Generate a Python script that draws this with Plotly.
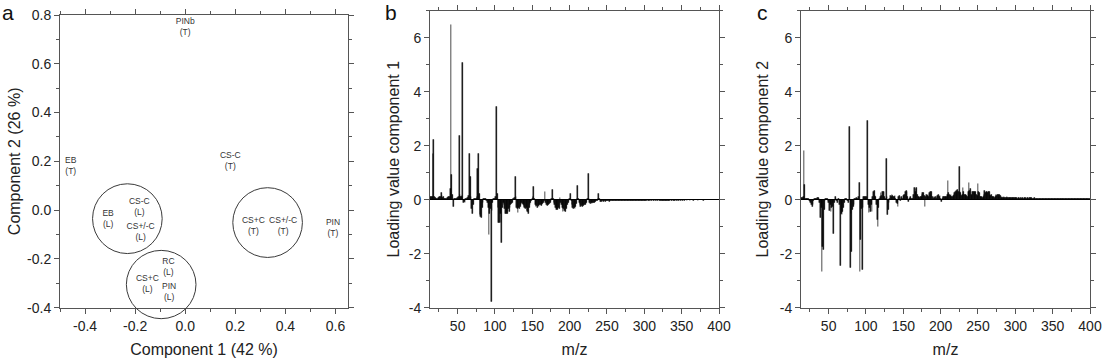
import plotly.graph_objects as go

W, H = 1102, 361
FONT = "Arial, Liberation Sans, sans-serif"

# ---------------- Panel a : PCA scores (text labels) ----------------
pca_x = [0.0, -0.457, 0.18, -0.308, -0.183, -0.178, -0.151, -0.067, -0.064, 0.272, 0.391, 0.59]
pca_y = [0.749, 0.178, 0.20, -0.039, 0.011, -0.093, -0.306, -0.233, -0.339, -0.065, -0.065, -0.075]
pca_labels = ["PINb<br>(T)", "EB<br>(T)", "CS-C<br>(T)", "EB<br>(L)", "CS-C<br>(L)",
              "CS+/-C<br>(L)", "CS+C<br>(L)", "RC<br>(L)", "PIN<br>(L)", "CS+C<br>(T)",
              "CS+/-C<br>(T)", "PIN<br>(T)"]

# group circles (centre in score units, radii in score units)
circle_cx = [-0.231, -0.096, 0.329]
circle_cy = [-0.035, -0.305, -0.051]
circle_rx = [0.139, 0.139, 0.139]
circle_ry = [0.143, 0.140, 0.143]

# ---------------- Panels b, c : loadings vs m/z ----------------
mz_start, mz_end = 13, 400
loading_comp1 = [
    0.08, 0.10, 0.12, 0.10, 1.70, 2.22, 0.10, 0.08, 0.05, 0.05,        # 13-22
    0.05, 0.06, 0.08, 0.10, 0.12, 0.25, 0.15, 0.08, 0.10, 0.05,        # 23-32
    0.05, 0.05, 0.05, 0.06, 0.08, 0.10, 0.12, 0.40, 6.50, 0.93,        # 33-42
    0.20, -0.25, 0.05, 0.03, 0.03, 0.05, 0.05, 0.06, 0.10, 2.38,       # 43-52
    0.19, 0.10, 0.12, 0.15, 5.06, -0.10, -0.08, -0.10, 0.05, 0.04,     # 53-62
    0.08, 0.05, 0.15, 1.70, 0.84, 0.10, -0.35, -0.52, -0.20, 0.04,     # 63-72
    0.03, 0.05, 0.05, 0.10, 1.15, 1.70, 0.21, -0.55, -0.62, -0.68,     # 73-82
    -0.30, -0.10, 0.04, 0.03, 0.04, 0.04, -0.05, -0.10, -0.30, -1.30,  # 83-92
    -0.50, -0.35, -3.77, -0.40, -0.10, 0.03, 0.03, 0.04, 0.10, 3.46,   # 93-102
    0.21, -0.30, -0.84, -0.84, -0.50, -0.84, -1.58, -0.30, -0.10, -0.20,  # 103-112
    -0.35, -0.50, -0.52, -0.45, -0.50, -0.35, -0.45, -0.30, -0.20, -0.15,  # 113-122
    -0.10, 0.05, 0.05, 0.08, 0.84, 0.10, -0.30, -0.35, -0.49, -0.30,   # 123-132
    -0.35, -0.25, -0.20, -0.10, -0.15, -0.20, -0.25, -0.30, -0.35, -0.30,  # 133-142
    -0.40, -0.45, -0.53, -0.30, -0.20, -0.10, -0.05, 0.05, 0.10, 0.47,  # 143-152
    0.05, -0.20, -0.25, -0.22, -0.28, -0.22, -0.25, -0.20, -0.18, -0.22,  # 153-162
    -0.20, -0.15, -0.12, -0.05, 0.30, -0.10, -0.20, -0.22, -0.18, -0.20,  # 163-172
    -0.15, -0.10, -0.05, 0.05, 0.37, 0.03, -0.10, -0.20, -0.30, -0.37,  # 173-182
    -0.35, -0.37, -0.30, -0.33, 0.06, -0.10, -0.20, -0.30, -0.43, -0.35,  # 183-192
    -0.40, -0.43, -0.30, -0.35, -0.20, -0.10, -0.05, 0.03, 0.21, -0.05,  # 193-202
    -0.20, -0.30, -0.33, -0.28, -0.33, -0.25, -0.15, 0.05, 0.52, 0.02,  # 203-212
    -0.10, -0.20, -0.25, -0.22, -0.25, -0.20, -0.22, -0.18, -0.20, -0.15,  # 213-222
    -0.10, 0.03, 0.95, 0.05, -0.10, -0.15, -0.12, -0.15, -0.10, -0.12,  # 223-232
    -0.10, -0.08, -0.06, -0.05, -0.04, 0.02, 0.22, 0.02, -0.06, -0.05,  # 233-242
    -0.07, -0.05, -0.06, -0.04, -0.05, -0.06, -0.04, -0.05, -0.05, -0.04,  # 243-252
    -0.06, -0.05, -0.04, -0.05, -0.03, -0.05, -0.04, -0.04, -0.04, -0.03,  # 253-262
    -0.05, -0.04, -0.03, -0.04, -0.03, -0.04, -0.03, -0.03, -0.04, -0.03,  # 263-272
    -0.03, -0.02, -0.03, -0.03, -0.02, -0.03, -0.02, -0.03, -0.02, -0.03,  # 273-282
    -0.02, -0.02, -0.03, -0.02, -0.02, -0.03, -0.02, -0.02, -0.02, -0.03,  # 283-292
    -0.02, -0.02, -0.02, -0.02, -0.03, -0.02, -0.02, -0.02, -0.02, -0.02,  # 293-302
    -0.02, -0.01, -0.02, -0.02, -0.02, -0.01, -0.02, -0.02, -0.01, -0.02,  # 303-312
    -0.02, -0.01, -0.02, -0.01, -0.02, -0.02, -0.01, -0.02, -0.01, -0.02,  # 313-322
    -0.02, -0.02, -0.03, -0.02, -0.02, -0.03, -0.02, -0.02, -0.02, -0.02,  # 323-332
    -0.02, -0.02, -0.01, -0.02, -0.02, -0.01, -0.02, -0.02, -0.02, -0.01,  # 333-342
    -0.02, -0.01, -0.02, -0.02, -0.01, -0.02, -0.01, -0.01, -0.02, -0.01,  # 343-352
    -0.01, -0.02, -0.01, -0.01, -0.02, -0.01, -0.01, -0.01, -0.02, -0.01,  # 353-362
    -0.01, -0.01, -0.01, -0.02, -0.01, -0.01, -0.01, -0.01, -0.01, -0.02,  # 363-372
    -0.01, -0.01, -0.01, -0.01, -0.01, -0.01, -0.02, -0.01, -0.01, -0.01,  # 373-382
    -0.01, -0.01, -0.01, -0.01, -0.01, -0.01, -0.01, -0.01, -0.01, -0.01,  # 383-392
    -0.01, -0.01, -0.01, -0.01, -0.01, -0.01, -0.01, -0.01,              # 393-400
]

loading_comp2 = [
    0.05, 0.06, 0.08, 0.10, 1.82, 0.55, 0.05, 0.03, 0.02, 0.02,        # 13-22
    0.03, -0.05, -0.08, -0.12, -0.20, -0.25, -0.20, -0.05, 0.03, 0.02,  # 23-32
    0.02, 0.03, 0.06, 0.08, 0.05, -0.10, -0.68, -0.30, -2.67, -1.73,   # 33-42
    -1.85, -0.37, -0.05, 0.02, 0.03, 0.02, -0.05, -0.10, -0.40, -0.20,  # 43-52
    -0.43, -0.30, -0.27, -0.10, -1.26, -0.10, 0.10, 0.05, -0.05, -0.10,  # 53-62
    0.05, 0.03, -0.20, -2.43, -0.50, -0.55, -0.43, -0.30, -0.10, 0.05,  # 63-72
    0.05, 0.03, -0.03, -0.05, -0.10, 2.69, -2.53, -0.50, -1.93, -0.37,  # 73-82
    -0.25, -0.20, 0.03, 0.05, 0.06, 0.04, 0.05, 0.10, 0.62, -2.65,     # 83-92
    -1.48, -0.35, -2.60, -0.30, 0.12, 0.10, 0.12, 0.05, 0.10, 2.93,    # 93-102
    -0.18, -0.49, -0.30, -0.45, -0.20, -0.43, 0.10, 0.31, 0.35, 0.15,  # 103-112
    0.10, -0.20, -0.74, -0.99, -0.30, 0.05, 0.10, 0.25, 0.15, 0.30,    # 113-122
    0.28, 0.30, 0.10, 0.05, 1.52, 0.10, -0.55, -0.37, -0.10, 0.05,     # 123-132
    0.15, 0.12, 0.18, 0.15, 0.10, 0.12, 0.15, 0.05, -0.10, -0.15,      # 133-142
    -0.25, 0.10, 0.15, -0.05, 0.08, 0.10, 0.05, 0.15, 0.18, 0.20,      # 143-152
    0.30, 0.33, 0.30, 0.10, -0.06, 0.05, 0.08, 0.10, 0.05, 0.03,       # 153-162
    0.05, 0.20, 0.43, 0.30, 0.40, 0.43, 0.20, 0.10, 0.12, 0.08,        # 163-172
    0.10, 0.12, 0.20, 0.27, 0.25, 0.15, -0.25, 0.12, 0.18, 0.15,       # 173-182
    0.18, 0.10, 0.25, 0.31, 0.20, 0.28, 0.10, 0.05, 0.10, 0.08,        # 183-192
    0.10, 0.05, 0.10, 0.15, 0.18, 0.12, 0.15, 0.05, -0.06, 0.05,       # 193-202
    0.10, 0.12, 0.10, 0.12, 0.10, 0.12, 0.20, 0.71, 0.25, 0.18,        # 203-212
    0.15, 0.18, 0.12, 0.10, 0.15, 0.20, 0.25, 0.30, 0.35, 0.25,        # 213-222
    0.37, 0.30, 1.23, 0.30, 0.25, 0.15, 0.20, 0.43, 0.30, 0.20,        # 223-232
    0.18, 0.20, 0.15, 0.12, 0.30, 0.62, 0.35, 0.41, 0.20, 0.15,        # 233-242
    0.31, 0.28, 0.30, 0.25, 0.31, 0.20, 0.15, 0.58, 0.30, 0.25,        # 243-252
    0.12, 0.10, 0.12, 0.08, 0.10, 0.20, 0.35, 0.25, 0.30, 0.31,        # 253-262
    0.25, 0.30, 0.28, 0.20, 0.15, 0.18, 0.10, 0.10, 0.12, 0.08,        # 263-272
    0.10, 0.18, 0.15, 0.20, 0.18, 0.12, 0.18, 0.15, 0.09, 0.10,        # 273-282
    0.08, 0.09, 0.10, 0.08, 0.09, 0.07, 0.10, 0.08, 0.09, 0.07,        # 283-292
    0.08, 0.09, 0.07, 0.08, 0.06, 0.08, 0.07, 0.06, 0.07, 0.06,        # 293-302
    0.05, 0.06, 0.07, 0.05, 0.06, 0.05, 0.06, 0.07, 0.05, 0.06,        # 303-312
    0.05, 0.06, 0.05, 0.07, 0.06, 0.05, 0.08, 0.06, 0.05, 0.06,        # 313-322
    0.05, 0.04, 0.05, 0.06, 0.04, 0.05, 0.04, 0.05, 0.04, 0.05,        # 323-332
    0.04, 0.03, 0.04, 0.05, 0.04, 0.03, 0.04, 0.03, 0.04, 0.04,        # 333-342
    0.03, 0.04, 0.03, 0.04, 0.03, 0.03, 0.04, 0.03, 0.04, 0.03,        # 343-352
    0.03, 0.04, 0.03, 0.03, 0.03, 0.04, 0.03, 0.03, 0.03, 0.04,        # 353-362
    0.03, 0.03, 0.04, 0.03, 0.03, 0.02, 0.03, 0.03, 0.03, 0.02,        # 363-372
    0.03, 0.03, 0.02, 0.03, 0.03, 0.02, 0.03, 0.02, 0.03, 0.02,        # 373-382
    0.02, 0.03, 0.02, 0.02, 0.03, 0.02, 0.02, 0.02, 0.03, 0.02,        # 383-392
    0.02, 0.02, 0.02, 0.02, 0.02, 0.02, 0.02, 0.02,                    # 393-400
]
mz_values = list(range(mz_start, mz_end + 1))
assert len(loading_comp1) == len(mz_values), len(loading_comp1)
assert len(loading_comp2) == len(mz_values), len(loading_comp2)

# tick labels
a_xticks = [-0.4, -0.2, 0.0, 0.2, 0.4, 0.6]
a_xtext = ["-0.4", "-0.2", "0.0", "0.2", "0.4", "0.6"]
a_yticks = [-0.4, -0.2, 0.0, 0.2, 0.4, 0.6, 0.8]
a_ytext = ["-0.4", "-0.2", "0.0", "0.2", "0.4", "0.6", "0.8"]
mz_ticks = [50, 100, 150, 200, 250, 300, 350, 400]
mz_text = ["50", "100", "150", "200", "250", "300", "350", "400"]
load_ticks = [-4, -2, 0, 2, 4, 6]
load_text = ["-4", "-2", "0", "2", "4", "6"]

# ---------------- figure ----------------
AX = "#555555"
fig = go.Figure()

fig.add_trace(go.Scatter(
    x=pca_x, y=pca_y, text=pca_labels, mode="text", textposition="middle center",
    textfont=dict(family=FONT, size=8.5, color="#333333"), cliponaxis=False,
    xaxis="x", yaxis="y", hoverinfo="skip"))

fig.add_trace(go.Bar(x=mz_values, y=loading_comp1, width=1.0,
                     marker=dict(color="black", line=dict(color="black", width=0.4)),
                     xaxis="x2", yaxis="y2"))
fig.add_trace(go.Bar(x=mz_values, y=loading_comp2, width=1.0,
                     marker=dict(color="black", line=dict(color="black", width=0.4)),
                     xaxis="x3", yaxis="y3"))

a_xrange = [-0.5, 0.65]
a_yrange = [-0.4, 0.8]

def frac(v, rng):
    return (v - rng[0]) / (rng[1] - rng[0])

for cx, cy, rx, ry in zip(circle_cx, circle_cy, circle_rx, circle_ry):
    fig.add_shape(type="circle", xref="x domain", yref="y domain",
                  x0=frac(cx - rx, a_xrange), x1=frac(cx + rx, a_xrange),
                  y0=frac(cy - ry, a_yrange), y1=frac(cy + ry, a_yrange),
                  line=dict(color="#3a3a3a", width=1))

tickfont = dict(family=FONT, size=14, color="#222222")
titlefont = dict(family=FONT, size=16, color="#222222")

def axis_common():
    return dict(showline=True, linecolor=AX, linewidth=1, mirror="allticks",
                ticks="outside", ticklen=5, tickwidth=1, tickcolor=AX,
                showgrid=False, zeroline=False, tickfont=tickfont,
                automargin=False, tickmode="array")

dom_a = [60 / W, 348 / W]
dom_b = [430 / W, 719 / W]
dom_c = [801 / W, 1090 / W]
ydom_a = [(H - 307.7) / H, (H - 15) / H]
ydom_bc = [(H - 307.7) / H, (H - 10.7) / H]

fig.update_layout(
    width=W, height=H, template="none",
    margin=dict(l=0, r=0, t=0, b=0),
    paper_bgcolor="white", plot_bgcolor="white",
    showlegend=False, bargap=0,
    font=dict(family=FONT, color="#222222"),
    xaxis=dict(**axis_common(), domain=dom_a, anchor="y", range=a_xrange,
               tickvals=a_xticks, ticktext=a_xtext,
               minor=dict(ticks="outside", ticklen=3, tick0=0, dtick=0.1, tickcolor=AX),
               title=dict(text="Component 1 (42 %)", font=titlefont, standoff=11)),
    yaxis=dict(**axis_common(), domain=ydom_a, anchor="x", range=a_yrange,
               tickvals=a_yticks, ticktext=a_ytext,
               minor=dict(ticks="outside", ticklen=3, tick0=0, dtick=0.1, tickcolor=AX),
               title=dict(text="Component 2 (26 %)", font=titlefont, standoff=2)),
    xaxis2=dict(**axis_common(), domain=dom_b, anchor="y2", range=[mz_start, mz_end],
                tickvals=mz_ticks, ticktext=mz_text,
                minor=dict(ticks="outside", ticklen=3, tick0=0, dtick=25, tickcolor=AX),
                title=dict(text="m/z", font=titlefont, standoff=11)),
    yaxis2=dict(**axis_common(), domain=ydom_bc, anchor="x2", range=[-4, 7],
                tickvals=load_ticks, ticktext=load_text,
                minor=dict(ticks="outside", ticklen=3, tick0=0, dtick=1, tickcolor=AX),
                title=dict(text="Loading value component 1", font=titlefont, standoff=5)),
    xaxis3=dict(**axis_common(), domain=dom_c, anchor="y3", range=[mz_start, mz_end],
                tickvals=mz_ticks, ticktext=mz_text,
                minor=dict(ticks="outside", ticklen=3, tick0=0, dtick=25, tickcolor=AX),
                title=dict(text="m/z", font=titlefont, standoff=11)),
    yaxis3=dict(**axis_common(), domain=ydom_bc, anchor="x3", range=[-4, 7],
                tickvals=load_ticks, ticktext=load_text,
                minor=dict(ticks="outside", ticklen=3, tick0=0, dtick=1, tickcolor=AX),
                title=dict(text="Loading value component 2", font=titlefont, standoff=7)),
)

# zero lines of the loading panels
for ya in ("yaxis2", "yaxis3"):
    fig.layout[ya].zeroline = True
    fig.layout[ya].zerolinecolor = "black"
    fig.layout[ya].zerolinewidth = 1

# panel letters
for letter, px_x in (("a", 8), ("b", 391), ("c", 762)):
    fig.add_annotation(text=letter, xref="paper", yref="paper",
                       x=px_x / W, y=1.0, showarrow=False,
                       xanchor="center", yanchor="top", borderpad=0,
                       font=dict(family=FONT, size=21, color="#111111"))

fig.write_html("out.html",
               config={"displayModeBar": False},
               post_script="document.body.style.margin='0px';document.body.style.padding='0px';document.body.style.overflow='hidden';")
